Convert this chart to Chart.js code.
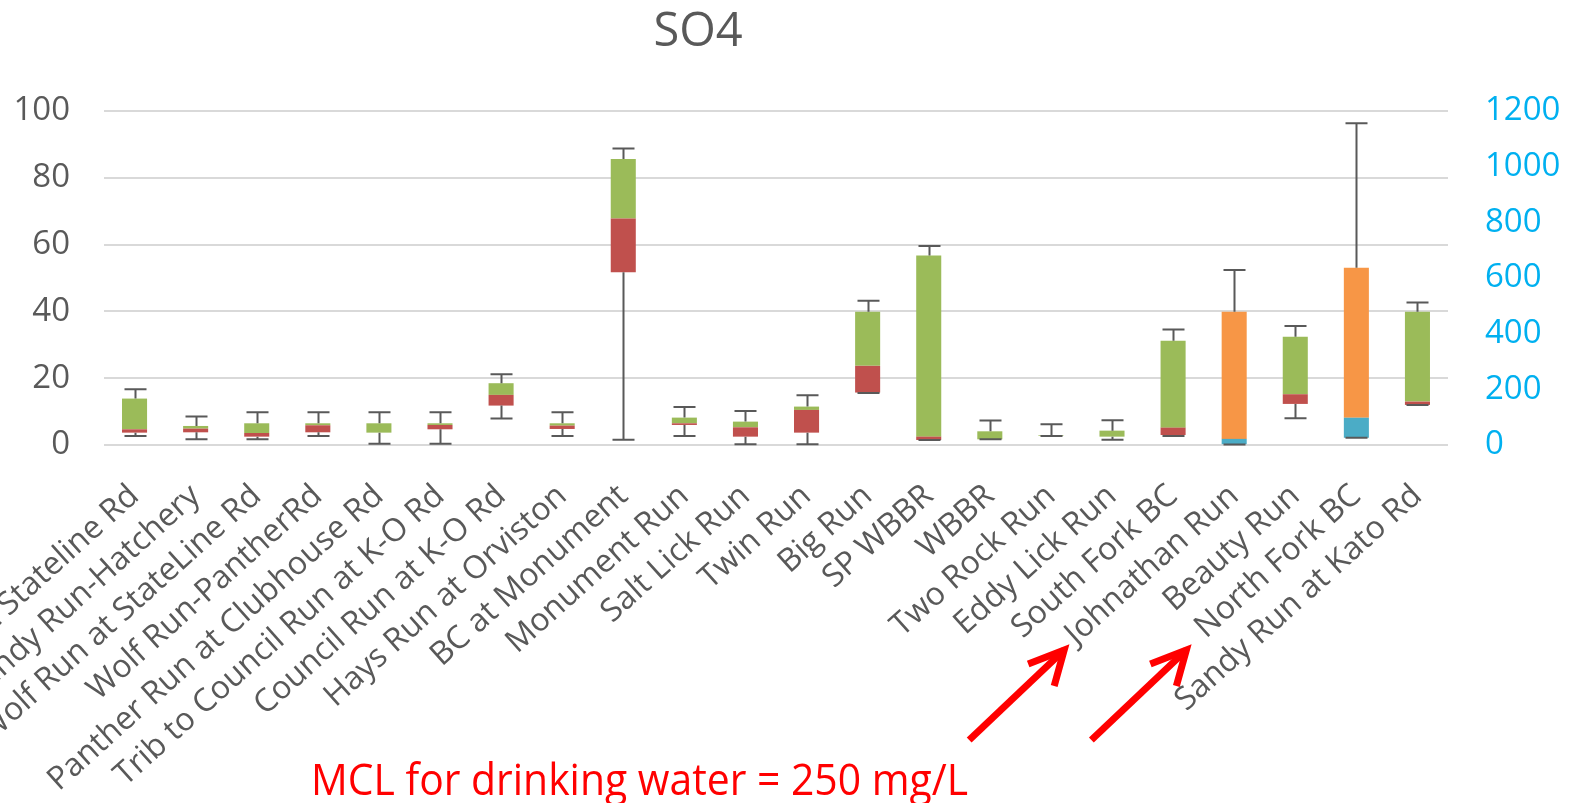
<!DOCTYPE html>
<html>
<head>
<meta charset="utf-8">
<title>SO4</title>
<script src="https://cdn.jsdelivr.net/npm/chart.js@4.4.1/dist/chart.umd.min.js"></script>
<style>
    body { margin: 0; background: #fff; }
    #wrap { width: 1585px; height: 803px; }
</style>
</head>
<body>
<div id="wrap"><canvas id="so4Chart" width="1585" height="803"></canvas></div>
<script>
// Sites (x axis)
var sites = [
    'Sandy Run at Stateline Rd', 'Sandy Run-Hatchery', 'Wolf Run at StateLine Rd', 'Wolf Run-PantherRd',
    'Panther Run at Clubhouse Rd', 'Trib to Council Run at K-O Rd', 'Council Run at K-O Rd', 'Hays Run at Orviston',
    'BC at Monument', 'Monument Run', 'Salt Lick Run', 'Twin Run', 'Big Run', 'SP WBBR', 'WBBR', 'Two Rock Run',
    'Eddy Lick Run', 'South Fork BC', 'Johnathan Run', 'Beauty Run', 'North Fork BC', 'Sandy Run at Kato Rd'
];

// Box plot values (mg/L)
var minVals    = [2.7, 1.7, 1.7, 2.7, 0.4, 0.4, 7.9, 2.7, 1.6, 2.7, 0.2, 0.2, 15.6, 1.5, 1.7, 2.7, 1.6, 2.7, 2, 8.0, 26, 12.0];
var q1Vals     = [3.7, 3.8, 2.5, 3.8, 3.7, 4.7, 11.8, 4.8, 51.7, 6.0, 2.5, 3.7, 15.7, 1.5, 1.7, 2.7, 2.5, 3.0, 3, 12.3, 26, 12.0];
var medianVals = [4.7, 4.9, 3.6, 5.9, 3.7, 6.0, 15.0, 5.8, 67.8, 6.5, 5.3, 10.5, 23.7, 2.5, 1.7, 2.7, 2.5, 5.2, 22, 15.2, 98, 13.0];
var q3Vals     = [13.9, 5.7, 6.5, 6.5, 6.5, 6.5, 18.5, 6.5, 85.6, 8.2, 7.0, 11.5, 39.9, 56.7, 4.1, 2.9, 4.3, 31.2, 479, 32.4, 637, 39.9];
var maxVals    = [16.7, 8.5, 9.8, 9.8, 9.8, 9.8, 21.2, 9.8, 88.8, 11.4, 10.2, 14.9, 43.2, 59.6, 7.3, 6.2, 7.4, 34.6, 629, 35.6, 1156, 42.7];

// Sites plotted against the right axis
var rightAxisSites = ['Johnathan Run', 'North Fork BC'];

// Axis ranges
var leftTicks = [0, 20, 40, 60, 80, 100];
var rightTicks = [0, 200, 400, 600, 800, 1000, 1200];

var titleText = 'SO4';
var noteText = 'MCL for drinking water = 250 mg/L';
var arrowSites = ['Johnathan Run', 'North Fork BC'];

function onRight(i) {
    return rightAxisSites.indexOf(sites[i]) >= 0;
}

function boxPart(lowArr, highArr, right) {
    return sites.map(function (s, i) {
        if (onRight(i) !== right) return null;
        return [lowArr[i], highArr[i]];
    });
}

Chart.defaults.font.family = "'Open Sans', 'DejaVu Sans', sans-serif";

//////////////////////////////////////////////////////////////////////
// whiskers (min / max) drawn with the chart's own scales
var whiskerPlugin = {
    id: 'whiskers',
    afterDatasetsDraw: function (chart) {
        var ctx = chart.ctx;
        var xs = chart.scales.x;
        ctx.save();
        ctx.strokeStyle = '#595959';
        ctx.lineWidth = 2;
        for (var i = 0; i < sites.length; i++) {
            var ys = onRight(i) ? chart.scales.y2 : chart.scales.y;
            var x = Math.round(xs.getPixelForValue(i)) + 0.5;
            var half = 11;
            var yMax = ys.getPixelForValue(maxVals[i]);
            var yQ3 = ys.getPixelForValue(q3Vals[i]);
            var yQ1 = ys.getPixelForValue(q1Vals[i]);
            var yMin = ys.getPixelForValue(minVals[i]);
            ctx.beginPath();
            ctx.moveTo(x, yQ3); ctx.lineTo(x, yMax);
            ctx.moveTo(x - half, yMax); ctx.lineTo(x + half, yMax);
            ctx.moveTo(x, yQ1); ctx.lineTo(x, yMin);
            ctx.moveTo(x - half, yMin); ctx.lineTo(x + half, yMin);
            ctx.stroke();
        }
        ctx.restore();
    }
};

//////////////////////////////////////////////////////////////////////
// title, red note and arrows
var notePlugin = {
    id: 'notes',
    afterDraw: function (chart) {
        var ctx = chart.ctx;
        var area = chart.chartArea;
        ctx.save();
        ctx.fillStyle = '#595959';
        ctx.font = "47px 'Open Sans'";
        ctx.textAlign = 'center';
        ctx.textBaseline = 'alphabetic';
        ctx.fillText(titleText, 698, 46);

        // note text, squeezed a bit to a narrow look
        ctx.fillStyle = '#FF0000';
        ctx.font = "44px 'Open Sans'";
        ctx.textAlign = 'left';
        var w = ctx.measureText(noteText).width;
        ctx.translate(311, 795);
        ctx.scale(657 / w, 1);
        ctx.fillText(noteText, 0, 0);
        ctx.restore();

        ctx.save();
        ctx.strokeStyle = '#FF0000';
        ctx.lineWidth = 7;
        ctx.lineJoin = 'miter';
        arrowSites.forEach(function (name) {
            var tipX = chart.scales.x.getPixelForValue(sites.indexOf(name)) - 170;
            var tipY = area.bottom + 205;
            ctx.beginPath();
            ctx.moveTo(tipX - 95, tipY + 90);
            ctx.lineTo(tipX, tipY);
            ctx.stroke();
            ctx.beginPath();
            ctx.moveTo(tipX - 36, tipY + 14);
            ctx.lineTo(tipX, tipY);
            ctx.lineTo(tipX - 10, tipY + 36);
            ctx.stroke();
        });
        ctx.restore();
    }
};

var ctxSO4 = document.getElementById('so4Chart').getContext('2d');
var so4Chart = new Chart(ctxSO4, {
    type: 'bar',
    data: {
        labels: sites,
        datasets: [{
            label: 'Q1-Median',
            data: boxPart(q1Vals, medianVals, false),
            backgroundColor: '#C0504D',
            yAxisID: 'y'
        }, {
            label: 'Median-Q3',
            data: boxPart(medianVals, q3Vals, false),
            backgroundColor: '#9BBB59',
            yAxisID: 'y'
        }, {
            label: 'Q1-Median (right axis)',
            data: boxPart(q1Vals, medianVals, true),
            backgroundColor: '#4BACC6',
            yAxisID: 'y2'
        }, {
            label: 'Median-Q3 (right axis)',
            data: boxPart(medianVals, q3Vals, true),
            backgroundColor: '#F79646',
            yAxisID: 'y2'
        }]
    },
    options: {
        responsive: false,
        animation: false,
        layout: { padding: { top: 111, left: 0, right: 0, bottom: 0 } },
        datasets: {
            bar: {
                grouped: false,
                barPercentage: 0.41,
                categoryPercentage: 1,
                borderWidth: 0
            }
        },
        plugins: {
            legend: { display: false },
            title: { display: false },
            tooltip: { enabled: false }
        },
        scales: {
            x: {
                grid: { display: false },
                border: { display: false },
                ticks: {
                    autoSkip: false,
                    minRotation: 42,
                    maxRotation: 42,
                    padding: 24,
                    color: '#595959',
                    font: { size: 32 }
                },
                afterFit: function (scale) {
                    scale.height = 358;
                    scale.paddingLeft = 0;
                    scale.paddingRight = 0;
                }
            },
            y: {
                position: 'left',
                min: leftTicks[0],
                max: leftTicks[leftTicks.length - 1],
                grid: { color: '#D9D9D9', lineWidth: 2, drawTicks: false },
                border: { display: false },
                afterBuildTicks: function (scale) {
                    scale.ticks = leftTicks.map(function (v) { return { value: v }; });
                },
                ticks: {
                    padding: 34,
                    color: '#595959',
                    font: { size: 33 },
                    callback: function (v) { return String(v); }
                },
                afterFit: function (scale) { scale.width = 104; }
            },
            y2: {
                position: 'right',
                min: rightTicks[0],
                max: rightTicks[rightTicks.length - 1],
                grid: { display: false, drawTicks: false },
                border: { display: false },
                afterBuildTicks: function (scale) {
                    scale.ticks = rightTicks.map(function (v) { return { value: v }; });
                },
                ticks: {
                    padding: 37,
                    color: '#00B0F0',
                    font: { size: 33 },
                    callback: function (v) { return String(v); }
                },
                afterFit: function (scale) { scale.width = 137; }
            }
        }
    },
    plugins: [whiskerPlugin, notePlugin]
});
</script>
</body>
</html>
